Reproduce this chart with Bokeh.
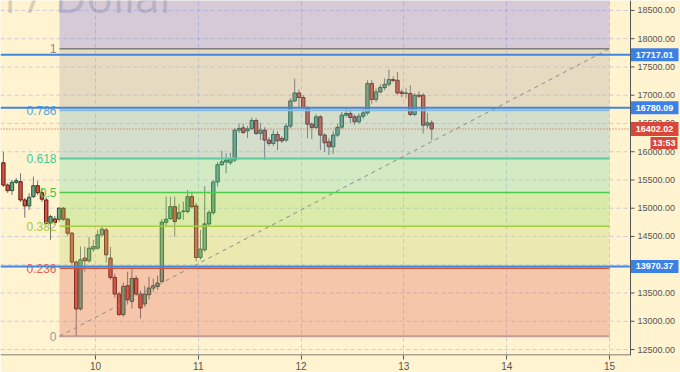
from bokeh.plotting import figure
from bokeh.models import Range1d, FixedTicker, Span, Label
from bokeh.embed import file_html
from bokeh.resources import INLINE
from bokeh.core.properties import value

# ---------------- data ----------------
hours = list(range(2, 103))  # hourly candles counted from day 9, 00:00
opens = [15805, 15410, 15311, 15459, 15470, 15147, 15041, 15205, 15399, 15275,
         15147, 14735, 14811, 14806, 15000, 14806, 14559, 14047, 13218, 14118,
         14070, 14277, 14294, 14529, 14617, 14118, 13775, 13482, 13117, 13629,
         13352, 13758, 13482, 13306, 13470, 13588, 13617, 13705, 14753, 14817,
         15028, 14817, 14940, 14940, 15205, 15041, 14128, 14264, 14723, 14922,
         15464, 15770, 15817, 15805, 15852, 16382, 16422, 16370, 16412, 16553,
         16324, 16382, 16206, 16147, 16306, 16235, 16206, 16453, 16899, 17040,
         16959, 16783, 16488, 16430, 16617, 16294, 16176, 16087, 16294, 16435,
         16647, 16677, 16617, 16529, 16629, 16687, 17206, 16924, 17058, 17135,
         17194, 17277, 17264, 17058, 17030, 17030, 16659, 17000, 17000, 16470,
         16511]
highs = [16000, 15440, 15500, 15535, 15618, 15182, 15265, 15558, 15482, 15353,
         15205, 14882, 14864, 15023, 15023, 14829, 14580, 14075, 14322, 14322,
         14488, 14441, 14617, 14670, 14653, 14317, 13841, 13523, 13682, 13876,
         13924, 13806, 13541, 13629, 13788, 13753, 13806, 14811, 15205, 15205,
         15205, 15076, 15117, 15323, 15293, 15094, 14617, 15394, 14970, 15500,
         15817, 16017, 15976, 15981, 16417, 16500, 16500, 16453, 16606, 16594,
         16505, 16435, 16258, 16382, 16364, 16276, 16505, 16947, 17294, 17105,
         17000, 16805, 16523, 16664, 16647, 16329, 16241, 16364, 16488, 16700,
         16770, 16735, 16664, 16682, 16770, 17264, 17264, 17123, 17194, 17300,
         17453, 17335, 17411, 17105, 17123, 17176, 17035, 17070, 17035, 16687,
         16559]
lows = [15375, 15270, 15235, 15429, 15111, 14834, 14970, 15182, 15235, 15111,
        14705, 14441, 14705, 14758, 14776, 14511, 13999, 12734, 13188, 13881,
        14035, 14229, 14264, 14494, 14035, 13735, 13417, 13099, 13082, 13294,
        13223, 13453, 13047, 13258, 13382, 13523, 13558, 13682, 14688, 14794,
        14499, 14794, 14794, 14917, 15000, 14058, 14088, 14229, 14688, 14882,
        15381, 15747, 15618, 15764, 15817, 16329, 16311, 16241, 16382, 16294,
        16206, 15852, 16100, 16100, 16029, 16153, 16170, 16417, 16876, 16770,
        16753, 16241, 16223, 16400, 16029, 15994, 15941, 15958, 16258, 16400,
        16611, 16505, 16470, 16500, 16576, 16647, 16841, 16876, 17035, 17088,
        17158, 17229, 17000, 16964, 16947, 16629, 16629, 16947, 16324, 16417,
        16206]
closes = [15410, 15311, 15459, 15487, 15147, 15041, 15194, 15399, 15275, 15159,
          14735, 14852, 14746, 15000, 14806, 14559, 14047, 13218, 14088, 14070,
          14294, 14322, 14529, 14630, 14176, 13775, 13482, 13117, 13617, 13382,
          13758, 13482, 13235, 13482, 13588, 13629, 13677, 14753, 14806, 15028,
          14764, 14922, 14950, 15205, 15028, 14128, 14277, 14723, 14922, 15464,
          15770, 15823, 15852, 15875, 16382, 16412, 16341, 16405, 16553, 16324,
          16382, 16206, 16147, 16306, 16193, 16193, 16453, 16899, 17040, 16959,
          16783, 16488, 16430, 16617, 16294, 16158, 16087, 16294, 16430, 16647,
          16677, 16606, 16529, 16629, 16687, 17206, 16924, 17058, 17135, 17194,
          17277, 17260, 17040, 17030, 17040, 16659, 17000, 16982, 16470, 16511,
          16402]

fib_low = 12735
fib_high = 17824
fib_start_day = 9.65
fib_end_day = 15.0
fib_levels = [0, 0.236, 0.382, 0.5, 0.618, 0.786, 1]
fib_labels = ["0", "0.236", "0.382", "0.5", "0.618", "0.786", "1"]
fib_line_colors = ["#c49a9a", "#d2553a", "#a5cc44", "#4ccc4c", "#5ec8a0", "#86bcdc", "#7f7f7f"]
fib_label_colors = ["#9a9a9a", "#e35a5a", "#a8c840", "#3cc83c", "#3ec99a", "#4fa3e0", "#8a8a8a"]
band_colors = ["#de6051", "#bcd565", "#80d851", "#6cd8a1", "#73b0bc", "#aca69b", "#736ee1"]

hlines = [17717.01, 16780.09, 13970.37]
hline_labels = ["17717.01", "16780.09", "13970.37"]
last_price = 16402.02
last_price_label = "16402.02"
countdown = "13:53"
price_ticks = list(range(12500, 19000, 500))
price_tick_labels = ["%.2f" % t for t in price_ticks]
day_ticks = [10, 11, 12, 13, 14, 15]
title_text = "Bitcoin / Dollar"

# ---------------- layout constants ----------------
W, H = 680, 372
FRAME_H = 356            # plot area height (x axis below)
PX_PER_DAY = 102.8
X0 = 9.076
X1 = X0 + W / PX_PER_DAY
AXIS_DAY = X0 + 630 / PX_PER_DAY      # price scale sits 50 px from the right edge
Y0, Y1 = 12394, 18676
PX_PER_PRICE = FRAME_H / (Y1 - Y0)
CREAM = "#fff3d0"
AXIS_COL = "#555555"

p = figure(width=W, height=H, output_backend="svg", toolbar_location=None,
           x_range=Range1d(X0, X1), y_range=Range1d(Y0, Y1),
           y_axis_location=None, min_border_left=0, min_border_top=0,
           min_border_bottom=0, min_border_right=0)
p.background_fill_color = CREAM
p.border_fill_color = CREAM
p.outline_line_color = None

# x axis (its line is drawn only up to the price scale, below)
p.xaxis.ticker = FixedTicker(ticks=day_ticks)
p.xaxis.axis_line_color = None
p.xaxis.major_tick_line_color = AXIS_COL
p.xaxis.minor_tick_line_color = None
p.xaxis.major_tick_in = 0
p.xaxis.major_tick_out = 4
p.xaxis.major_label_standoff = 2
p.xaxis.major_label_text_font = "Liberation Sans"
p.xaxis.major_label_text_color = AXIS_COL
p.xaxis.major_label_text_font_size = "10px"

# grid
p.xgrid.ticker = FixedTicker(ticks=day_ticks)
p.xgrid.grid_line_color = "#b8bce0"
p.xgrid.grid_line_alpha = 0.7
p.xgrid.grid_line_dash = "4 3"
p.ygrid.visible = False
n_t = len(price_ticks)
p.segment([X0] * n_t, price_ticks, [AXIS_DAY] * n_t, price_ticks, line_color="#b8bce0",
          line_alpha=0.7, line_dash="4 3", line_width=1, level="underlay")

# watermark title
p.add_layout(Label(x=10.798, y=Y1 + 5 / PX_PER_PRICE, text=title_text, text_align="right",
                   text_baseline="alphabetic", text_font="Open Sans",
                   text_font_size="44px", text_color="#888888", text_alpha=0.35,
                   level="underlay"))

# candles
xs = [9 + (h + 0.5) / 24 for h in hours]
up = [c >= o for o, c in zip(opens, closes)]
tops = [max(o, c) for o, c in zip(opens, closes)]
bots = [min(o, c) for o, c in zip(opens, closes)]
p.segment(xs, highs, xs, lows, line_color="#737375", line_width=1)
p.vbar(x=xs, width=0.78 / 24, top=tops, bottom=bots,
       fill_color=["#6ba583" if u else "#d75442" for u in up],
       line_color=["#225437" if u else "#5b1a13" for u in up], line_width=1)

# fibonacci bands (semi-transparent overlay)
rng = fib_high - fib_low
lvl_prices = [fib_low + l * rng for l in fib_levels]
band_bottoms = lvl_prices
band_tops = lvl_prices[1:] + [Y1 + 500]
p.quad(left=fib_start_day, right=fib_end_day, bottom=band_bottoms, top=band_tops,
       fill_color=band_colors, fill_alpha=0.3, line_color=None)

# fib lines + labels
p.segment([fib_start_day] * 7, lvl_prices, [fib_end_day] * 7, lvl_prices,
          line_color=fib_line_colors, line_width=[2, 1.5, 1.5, 1.5, 2, 2, 1.5])
p.text(x=[fib_start_day] * 7, y=lvl_prices, text=fib_labels, x_offset=-3,
       text_align="right", text_baseline="middle", text_color=fib_label_colors,
       text_font=value("Liberation Sans"), text_font_size="12px")

# trend line across the retracement box
p.line([fib_start_day, fib_end_day], [fib_low, fib_high], line_color="#8a8a8a",
       line_dash="4 4", line_width=1)

# horizontal levels (up to the price scale)
n_h = len(hlines)
p.segment([X0] * n_h, hlines, [AXIS_DAY] * n_h, hlines, line_color="#4186e0", line_width=2)
p.segment([X0], [last_price], [AXIS_DAY], [last_price], line_color="#d75442",
          line_width=1, line_dash="1 2")

# x axis line and price scale on the right
p.segment([X0], [Y0 + 0.5 / PX_PER_PRICE], [AXIS_DAY], [Y0 + 0.5 / PX_PER_PRICE],
          line_color=AXIS_COL, line_width=1)
p.add_layout(Span(location=AXIS_DAY, dimension="height", line_color=AXIS_COL, line_width=1))
p.ray(x=[AXIS_DAY] * n_t, y=price_ticks, length=4, length_units="screen", angle=0,
      line_color=AXIS_COL, line_width=1)
p.text(x=[AXIS_DAY] * n_t, y=price_ticks, text=price_tick_labels, x_offset=7,
       text_align="left", text_baseline="middle", text_color=AXIS_COL,
       text_font=value("Liberation Sans"), text_font_size="9px")

# price tags
tag_x = AXIS_DAY + 24 / PX_PER_DAY
tag_prices = hlines + [last_price]
tag_texts = hline_labels + [last_price_label]
tag_colors = ["#3c82e6"] * 3 + ["#d9473a"]
p.rect(x=[tag_x] * 4, y=tag_prices, width=48, height=[13, 13, 13, 14],
       width_units="screen", height_units="screen", fill_color=tag_colors, line_color=None)
p.text(x=[tag_x] * 4, y=tag_prices, text=tag_texts, text_align="center",
       text_baseline="middle", text_color="white", text_font=value("Liberation Sans"),
       text_font_style="bold", text_font_size="9px")
cd_x = AXIS_DAY + 33.5 / PX_PER_DAY
cd_y = last_price - 14 / PX_PER_PRICE
p.rect(x=[cd_x], y=[cd_y], width=27, height=12, width_units="screen",
       height_units="screen", fill_color="#d9473a", line_color=None)
p.text(x=[cd_x], y=[cd_y], text=[countdown], text_align="center", text_baseline="middle",
       text_color="white", text_font=value("Liberation Sans"), text_font_style="bold",
       text_font_size="9px")

open("out.html", "w").write(file_html(p, INLINE))
